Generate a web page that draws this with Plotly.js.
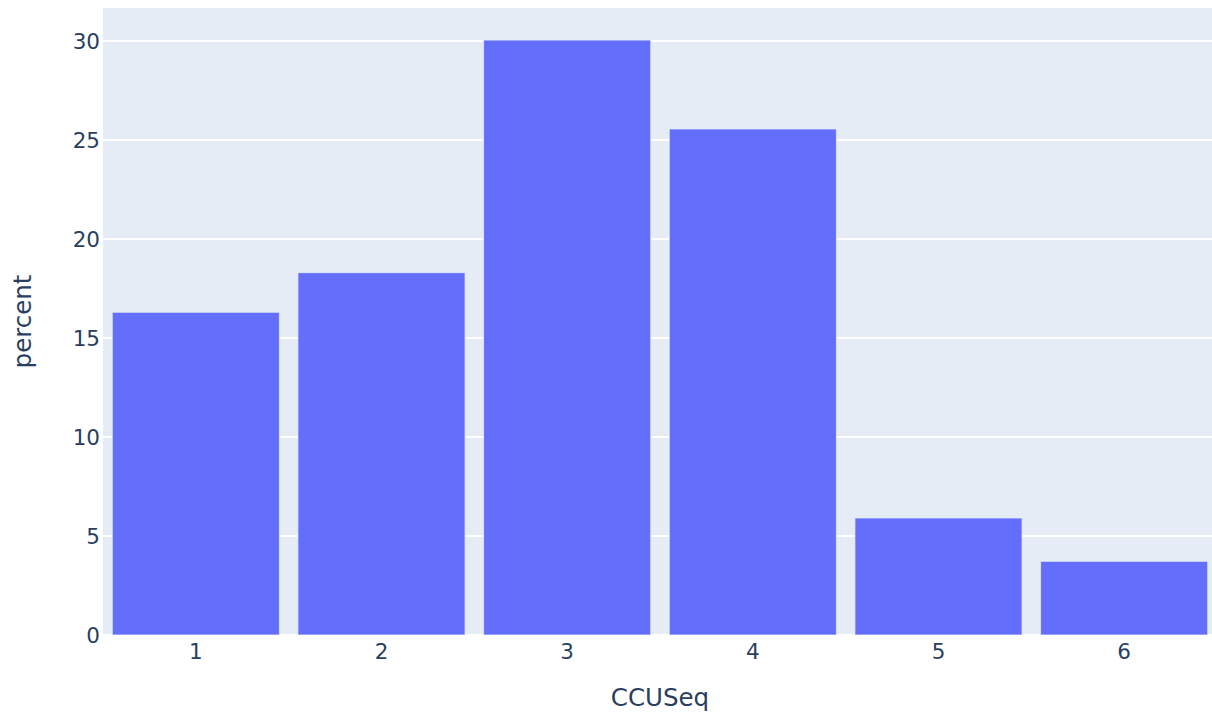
<!DOCTYPE html>
<html>
<head>
<meta charset="utf-8">
<script src="https://cdn.plot.ly/plotly-3.0.1.min.js"></script>
<style>
html, body { margin: 0; padding: 0; overflow: hidden; background: #fff; }
#chart { width: 1217px; height: 712px; }
</style>
</head>
<body>
<div id="chart"></div>
<script>
const categories = [1, 2, 3, 4, 5, 6];
const percentValues = [16.30, 18.30, 30.05, 25.56, 5.91, 3.72];
const xTickLabels = ["1", "2", "3", "4", "5", "6"];
const yTickValues = [0, 5, 10, 15, 20, 25, 30];

const trace = {
  type: "bar",
  x: categories,
  y: percentValues,
  marker: { color: "#636efa", line: { color: "#E5ECF6", width: 0.8 } },
  hoverinfo: "x+y"
};

const layout = {
  width: 1217,
  height: 712,
  margin: { l: 103, r: 0, t: 8, b: 77 },
  paper_bgcolor: "#ffffff",
  plot_bgcolor: "#E5ECF6",
  font: { family: "DejaVu Sans, Verdana, sans-serif", color: "#2a3f5f", size: 21.5 },
  bargap: 0.1,
  showlegend: false,
  xaxis: {
    tickmode: "array",
    tickvals: categories,
    ticktext: xTickLabels,
    range: [0.5, 6.5],
    showgrid: false,
    zeroline: false,
    tickfont: { size: 21.5 },
    ticklabelstandoff: 1,
    title: { text: "CCUSeq", font: { size: 24.5 }, standoff: 28 }
  },
  yaxis: {
    tickmode: "array",
    tickvals: yTickValues,
    range: [0, 31.67],
    gridcolor: "#ffffff",
    gridwidth: 1.7,
    zeroline: true,
    zerolinecolor: "#ffffff",
    zerolinewidth: 2,
    tickfont: { size: 21.5 },
    ticklabelstandoff: 2,
    title: { text: "percent", font: { size: 24.5 }, standoff: 34 }
  }
};

Plotly.newPlot("chart", [trace], layout, { displayModeBar: false, staticPlot: true });
</script>
</body>
</html>
